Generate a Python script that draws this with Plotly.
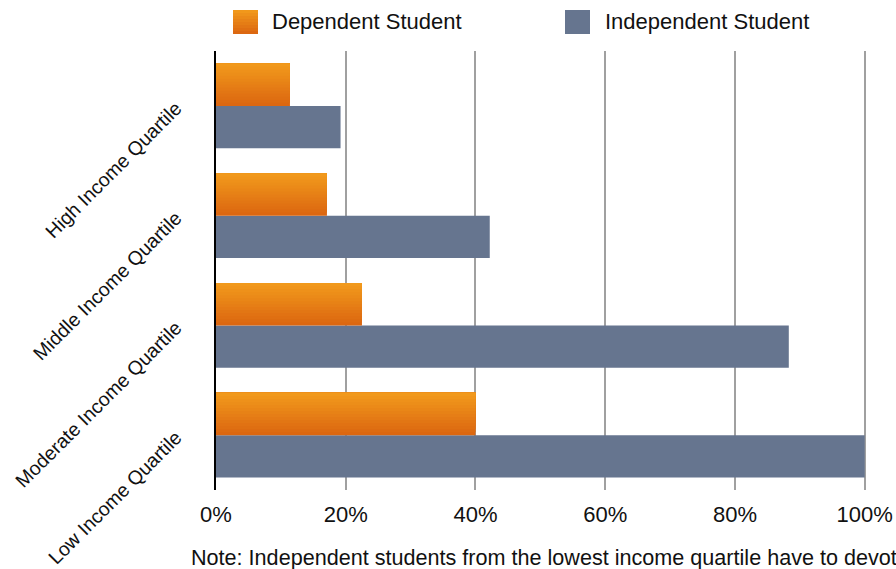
import plotly.graph_objects as go
import numpy as np

# Data (bottom to top on the axis)
categories = ["Low Income Quartile", "Moderate Income Quartile", "Middle Income Quartile", "High Income Quartile"]
dependent = [40.0, 22.5, 17.1, 11.4]
independent = [100.0, 88.3, 42.2, 19.2]
x_ticks = [0, 20, 40, 60, 80, 100]
x_tick_labels = ["0%", "20%", "40%", "60%", "80%", "100%"]
series_names = ["Dependent Student", "Independent Student"]
note_text = "Note: Independent students from the lowest income quartile have to devote more than their entire income to pay for college."

FONT = "Liberation Sans, Arial, sans-serif"
ORANGE_TOP = np.array([242, 155, 28])
ORANGE_BOT = np.array([219, 101, 16])
SLATE = "#66758f"

BAR_W = 0.385
N_STRIPS = 14

fig = go.Figure()

# Independent bars (below the category center)
fig.add_trace(go.Bar(
    y=categories, x=independent, orientation="h",
    width=BAR_W, offset=-BAR_W,
    marker=dict(color=SLATE, line=dict(width=0)),
    name=series_names[1], showlegend=False,
))

# Dependent bars with vertical gradient: overlapping layers, each reaching the top
for i in range(N_STRIPS):
    t = (i + 0.5) / N_STRIPS  # 0 bottom -> 1 top
    c = ORANGE_BOT + (ORANGE_TOP - ORANGE_BOT) * t
    col = "rgb(%d,%d,%d)" % tuple(int(round(v)) for v in c)
    fig.add_trace(go.Bar(
        y=categories, x=dependent, orientation="h",
        width=BAR_W - i * BAR_W / N_STRIPS, offset=i * BAR_W / N_STRIPS,
        marker=dict(color=col, line=dict(width=0)),
        name=series_names[0], showlegend=False,
    ))

# Manual legend (paper coords)
W, H = 896, 569
ML, MR, MT, MB = 216, 30, 51, 79
pw = W - ML - MR
ph = H - MT - MB


def px_to_paper_x(px):
    return (px - ML) / pw


def px_to_paper_y(py):
    return (H - MB - py) / ph


shapes = []
# dependent swatch with gradient (overlapping layers)
sx0, sx1, sy0, sy1 = 233, 258, 10, 34
n = 8
for i in range(n):
    t = (i + 0.5) / n  # 0 top -> 1 bottom
    c = ORANGE_TOP + (ORANGE_BOT - ORANGE_TOP) * t
    col = "rgb(%d,%d,%d)" % tuple(int(round(v)) for v in c)
    ya = sy0 + (sy1 - sy0) * i / n
    shapes.append(dict(type="rect", xref="paper", yref="paper",
                       x0=px_to_paper_x(sx0), x1=px_to_paper_x(sx1),
                       y0=px_to_paper_y(sy1), y1=px_to_paper_y(ya),
                       fillcolor=col, line=dict(width=0), layer="above"))
shapes.append(dict(type="rect", xref="paper", yref="paper",
                   x0=px_to_paper_x(565), x1=px_to_paper_x(590),
                   y0=px_to_paper_y(34), y1=px_to_paper_y(10),
                   fillcolor=SLATE, line=dict(width=0), layer="above"))

annotations = [
    dict(text=series_names[0], xref="paper", yref="paper",
         x=px_to_paper_x(270), y=px_to_paper_y(22), xanchor="left", yanchor="middle",
         showarrow=False, font=dict(family=FONT, size=22, color="#111")),
    dict(text=series_names[1], xref="paper", yref="paper",
         x=px_to_paper_x(603), y=px_to_paper_y(22), xanchor="left", yanchor="middle",
         showarrow=False, font=dict(family=FONT, size=22, color="#111")),
    dict(text=note_text, xref="paper", yref="paper",
         x=px_to_paper_x(189), y=px_to_paper_y(557), xanchor="left", yanchor="middle",
         showarrow=False, font=dict(family=FONT, size=21.6, color="#111")),
]

fig.update_layout(
    width=W, height=H,
    margin=dict(l=ML, r=MR, t=MT, b=MB, autoexpand=False),
    paper_bgcolor="white", plot_bgcolor="white",
    barmode="overlay",
    showlegend=False,
    shapes=shapes,
    annotations=annotations,
    font=dict(family=FONT, color="#111"),
)

fig.update_xaxes(
    range=[0, 100.2],
    tickvals=x_ticks, ticktext=x_tick_labels,
    showgrid=True, gridcolor="#a0a0a0", gridwidth=1.5,
    zeroline=False, showline=False,
    ticks="", ticklabelstandoff=9,
    tickfont=dict(family=FONT, size=22, color="#111"),
    fixedrange=True,
)
fig.update_yaxes(
    type="category", categoryorder="array", categoryarray=categories,
    range=[-0.5, 3.5],
    showgrid=False, zeroline=False,
    showline=True, linecolor="#000", linewidth=2,
    ticks="", tickangle=-45, ticklabelstandoff=34,
    tickfont=dict(family=FONT, size=19.5, color="#111"),
    fixedrange=True,
)

fig.write_html("out.html")
